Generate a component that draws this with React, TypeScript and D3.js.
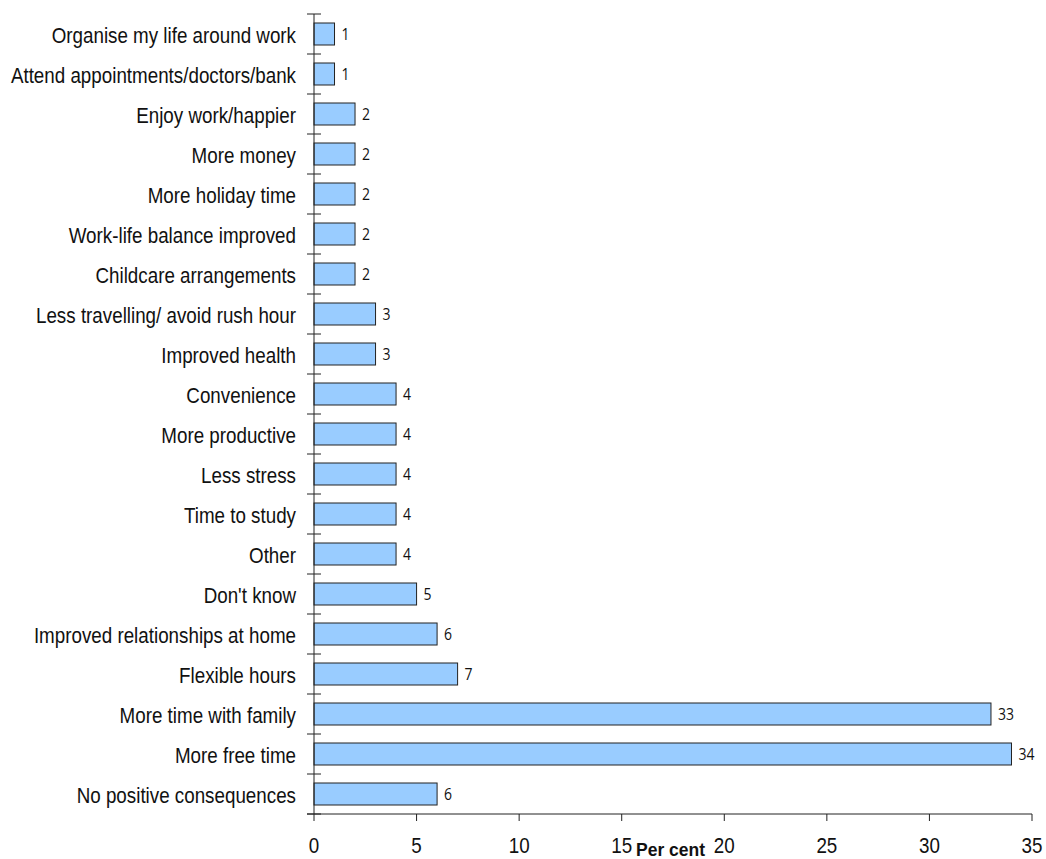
import React from "react";
import * as d3 from "d3";

const categories: string[] = [
  "Organise my life around work",
  "Attend appointments/doctors/bank",
  "Enjoy work/happier",
  "More money",
  "More holiday time",
  "Work-life balance improved",
  "Childcare arrangements",
  "Less travelling/ avoid rush hour",
  "Improved health",
  "Convenience",
  "More productive",
  "Less stress",
  "Time to study",
  "Other",
  "Don't know",
  "Improved relationships at home",
  "Flexible hours",
  "More time with family",
  "More free time",
  "No positive consequences",
];
const values: number[] = [1, 1, 2, 2, 2, 2, 2, 3, 3, 4, 4, 4, 4, 4, 5, 6, 7, 33, 34, 6];
const xTicks: number[] = [0, 5, 10, 15, 20, 25, 30, 35];
const xTitle = "Per cent";

export default function App() {
  const width = 1046;
  const height = 859;
  const left = 314;
  const right = 1032;
  const top = 14;
  const bottom = 814;

  const x = d3.scaleLinear().domain([0, 35]).range([left, right]);
  const y = d3.scaleBand<string>().domain(categories).range([top, bottom]).paddingInner(0).paddingOuter(0);
  const barH = 22;
  const catFont = "'Liberation Sans', Arial, sans-serif";
  const sy = 1.18;

  const bandEdges = d3.range(categories.length + 1).map((i) => top + i * y.step());

  return (
    <svg width={width} height={height} style={{ position: "absolute", left: 0, top: 0 }}>
      <rect x={0} y={0} width={width} height={height} fill="#ffffff" />
      {categories.map((c, i) => {
        const cy = (y(c) as number) + y.bandwidth() / 2;
        return (
          <g key={c}>
            <rect
              x={x(0)}
              y={cy - barH / 2}
              width={x(values[i]) - x(0)}
              height={barH}
              fill="#99ccff"
              stroke="#222"
              strokeWidth={1}
            />
            <text
              transform={`translate(${x(values[i]) + 7},${cy + 5.5}) scale(1,1.1)`}
              fontFamily="'Open Sans', sans-serif"
              fontSize={14}
              fill="#111"
            >
              {values[i]}
            </text>
            <text
              transform={`translate(296,${cy + 9}) scale(1,${sy})`}
              textAnchor="end"
              fontFamily={catFont}
              fontSize={18.8}
              fill="#111"
            >
              {c}
            </text>
          </g>
        );
      })}
      {/* y axis */}
      <line x1={left} x2={left} y1={top} y2={bottom} stroke="#222" strokeWidth={1} />
      {bandEdges.map((ey, i) => (
        <line key={i} x1={left - 7} x2={left + 7} y1={ey} y2={ey} stroke="#222" strokeWidth={1} />
      ))}
      {/* x axis */}
      <line x1={left - 7} x2={right} y1={bottom} y2={bottom} stroke="#222" strokeWidth={1} />
      {xTicks.map((t) => (
        <g key={t}>
          <line x1={x(t)} x2={x(t)} y1={bottom} y2={bottom + 7} stroke="#222" strokeWidth={1} />
          <text
            transform={`translate(${x(t)},853) scale(1,1.2)`}
            textAnchor="middle"
            fontFamily={catFont}
            fontSize={18.8}
            fill="#111"
          >
            {t}
          </text>
        </g>
      ))}
      <text
        x={636}
        y={856}
        fontFamily={catFont}
        fontSize={17.5}
        fontWeight="bold"
        fill="#111"
      >
        {xTitle}
      </text>
    </svg>
  );
}
